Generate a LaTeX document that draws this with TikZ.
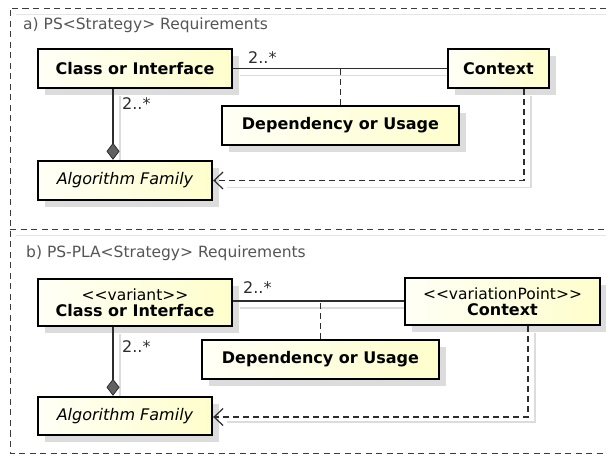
\documentclass[tikz,border=0pt]{standalone}
\usepackage{fontspec}
\setmainfont{DejaVu Sans}
\usetikzlibrary{arrows.meta,shadows,backgrounds}
\definecolor{boxhi}{RGB}{254,254,204}
\definecolor{boxlo}{RGB}{255,255,246}
\definecolor{shadowgray}{RGB}{220,220,220}
\definecolor{ink}{RGB}{45,45,45}
\definecolor{framegray}{RGB}{60,60,60}
\definecolor{titlegray}{RGB}{85,85,85}
% stereotype line above a class name
\newcommand{\stereofont}{\fontsize{15.5}{18}\selectfont\mdseries}
\begin{document}
\begin{tikzpicture}[x=1pt,y=-1pt,
  umlbox/.style={draw=black, line width=2.4pt, left color=boxlo, right color=boxhi,
    align=center, inner sep=0pt, font=\fontsize{16}{18}\selectfont,
    drop shadow={shadow xshift=7pt, shadow yshift=-7pt, fill=shadowgray, opacity=1}},
  frameline/.style={draw=framegray, line width=0.9pt, dash pattern=on 6pt off 4.5pt},
  innerline/.style={draw=black!10, line width=1pt},
  title/.style={anchor=west, inner sep=0pt, text=titlegray, font=\fontsize{15.5}{18}\selectfont},
  mult/.style={inner sep=0pt, text=ink, font=\fontsize{16}{18}\selectfont},
  assoc/.style={draw=ink, line width=1.2pt},
  linkline/.style={draw=ink, line width=1.2pt, dash pattern=on 6pt off 4pt},
  comp/.style={draw=ink, line width=1.2pt,
    -{Diamond[length=17pt, width=13pt, line width=0.8pt, fill=black!62]}},
  depend/.style={draw=ink, line width=1.2pt, dash pattern=on 6pt off 4pt,
    -{Straight Barb[length=9pt, width=17pt, line width=1.2pt]}},
  lineshadow/.style={draw=shadowgray, line width=1.6pt},
]
\useasboundingbox (0,0) rectangle (606,457);

% package frames
\draw[innerline] (16,15) -- (606,15);
\draw[innerline] (16,236) -- (606,236);
\draw[frameline] (606,8) -- (10,8) -- (10,453) -- (606,453);
\draw[frameline] (10,229) -- (606,229);

\node[title] (ta) at (23,25) {a) PS<Strategy> Requirements};
\node[title] (tb) at (26,253) {b) PS-PLA<Strategy> Requirements};

% ---------- panel a ----------
\node[umlbox, minimum width=194pt, minimum height=39pt] (clsA) at (135,68.5)
  {\bfseries Class or Interface};
\node[umlbox, minimum width=101pt, minimum height=39pt] (ctxA) at (498.5,68.5)
  {\bfseries Context};
\node[umlbox, minimum width=237pt, minimum height=39pt] (depA) at (340.5,125.5)
  {\bfseries Dependency or Usage};
\node[umlbox, minimum width=174pt, minimum height=39pt] (algA) at (125,180.5)
  {\itshape Algorithm Family};

\coordinate (compA) at ([xshift=-22pt]clsA.south);
\coordinate (depStartA) at ([xshift=25.5pt]ctxA.south);

\begin{scope}[on background layer]
  \draw[lineshadow] ([shift={(7,7)}]clsA.east) -- ([shift={(7,7)}]ctxA.west);
  \draw[lineshadow] ([shift={(7,7)}]compA) -- ([shift={(7,7)}]compA |- algA.north);
  \draw[lineshadow] ([shift={(7,7)}]depStartA) |- ([shift={(14,7)}]algA.east);
\end{scope}

\draw[assoc] (clsA.east) -- (ctxA.west);
\draw[linkline] (depA.north) -- (depA.north |- clsA.east);
\draw[comp] (compA) -- (compA |- algA.north);
\draw[depend] (depStartA) |- (algA.east);

\node[mult, anchor=west] (mA1) at (248,58) {2..*};
\node[mult, anchor=west] (mA2) at (122,104) {2..*};

% ---------- panel b ----------
\node[umlbox, minimum width=194pt, minimum height=47pt] (clsB) at (135,302.5)
  {{\stereofont <{}<variant>{}>}\\[-2pt]\bfseries Class or Interface};
\node[umlbox, minimum width=195pt, minimum height=47pt] (ctxB) at (502.5,301.5)
  {{\stereofont <{}<variationPoint>{}>}\\[-2pt]\bfseries Context};
\node[umlbox, minimum width=237pt, minimum height=39pt] (depB) at (320.5,359.5)
  {\bfseries Dependency or Usage};
\node[umlbox, minimum width=174pt, minimum height=38pt] (algB) at (125,416)
  {\itshape Algorithm Family};

\coordinate (compB) at ([xshift=-22pt]clsB.south);
\coordinate (depStartB) at ([xshift=25.5pt]ctxB.south);
\coordinate (assocB) at (clsB.east |- 0,301);

\begin{scope}[on background layer]
  \draw[lineshadow] ([shift={(7,7)}]assocB) -- ([shift={(7,7)}]assocB -| ctxB.west);
  \draw[lineshadow] ([shift={(7,7)}]compB) -- ([shift={(7,7)}]compB |- algB.north);
  \draw[lineshadow] ([shift={(7,7)}]depStartB) |- ([shift={(14,6)}]algB.east);
\end{scope}

\draw[assoc] (assocB) -- (assocB -| ctxB.west);
\draw[linkline] (depB.north) -- (depB.north |- assocB);
\draw[comp] (compB) -- (compB |- algB.north);
\draw[depend] (depStartB) |- ([yshift=-1pt]algB.east);

\node[mult, anchor=west] (mB1) at (243,288) {2..*};
\node[mult, anchor=west] (mB2) at (122,347) {2..*};
\end{tikzpicture}
\end{document}
